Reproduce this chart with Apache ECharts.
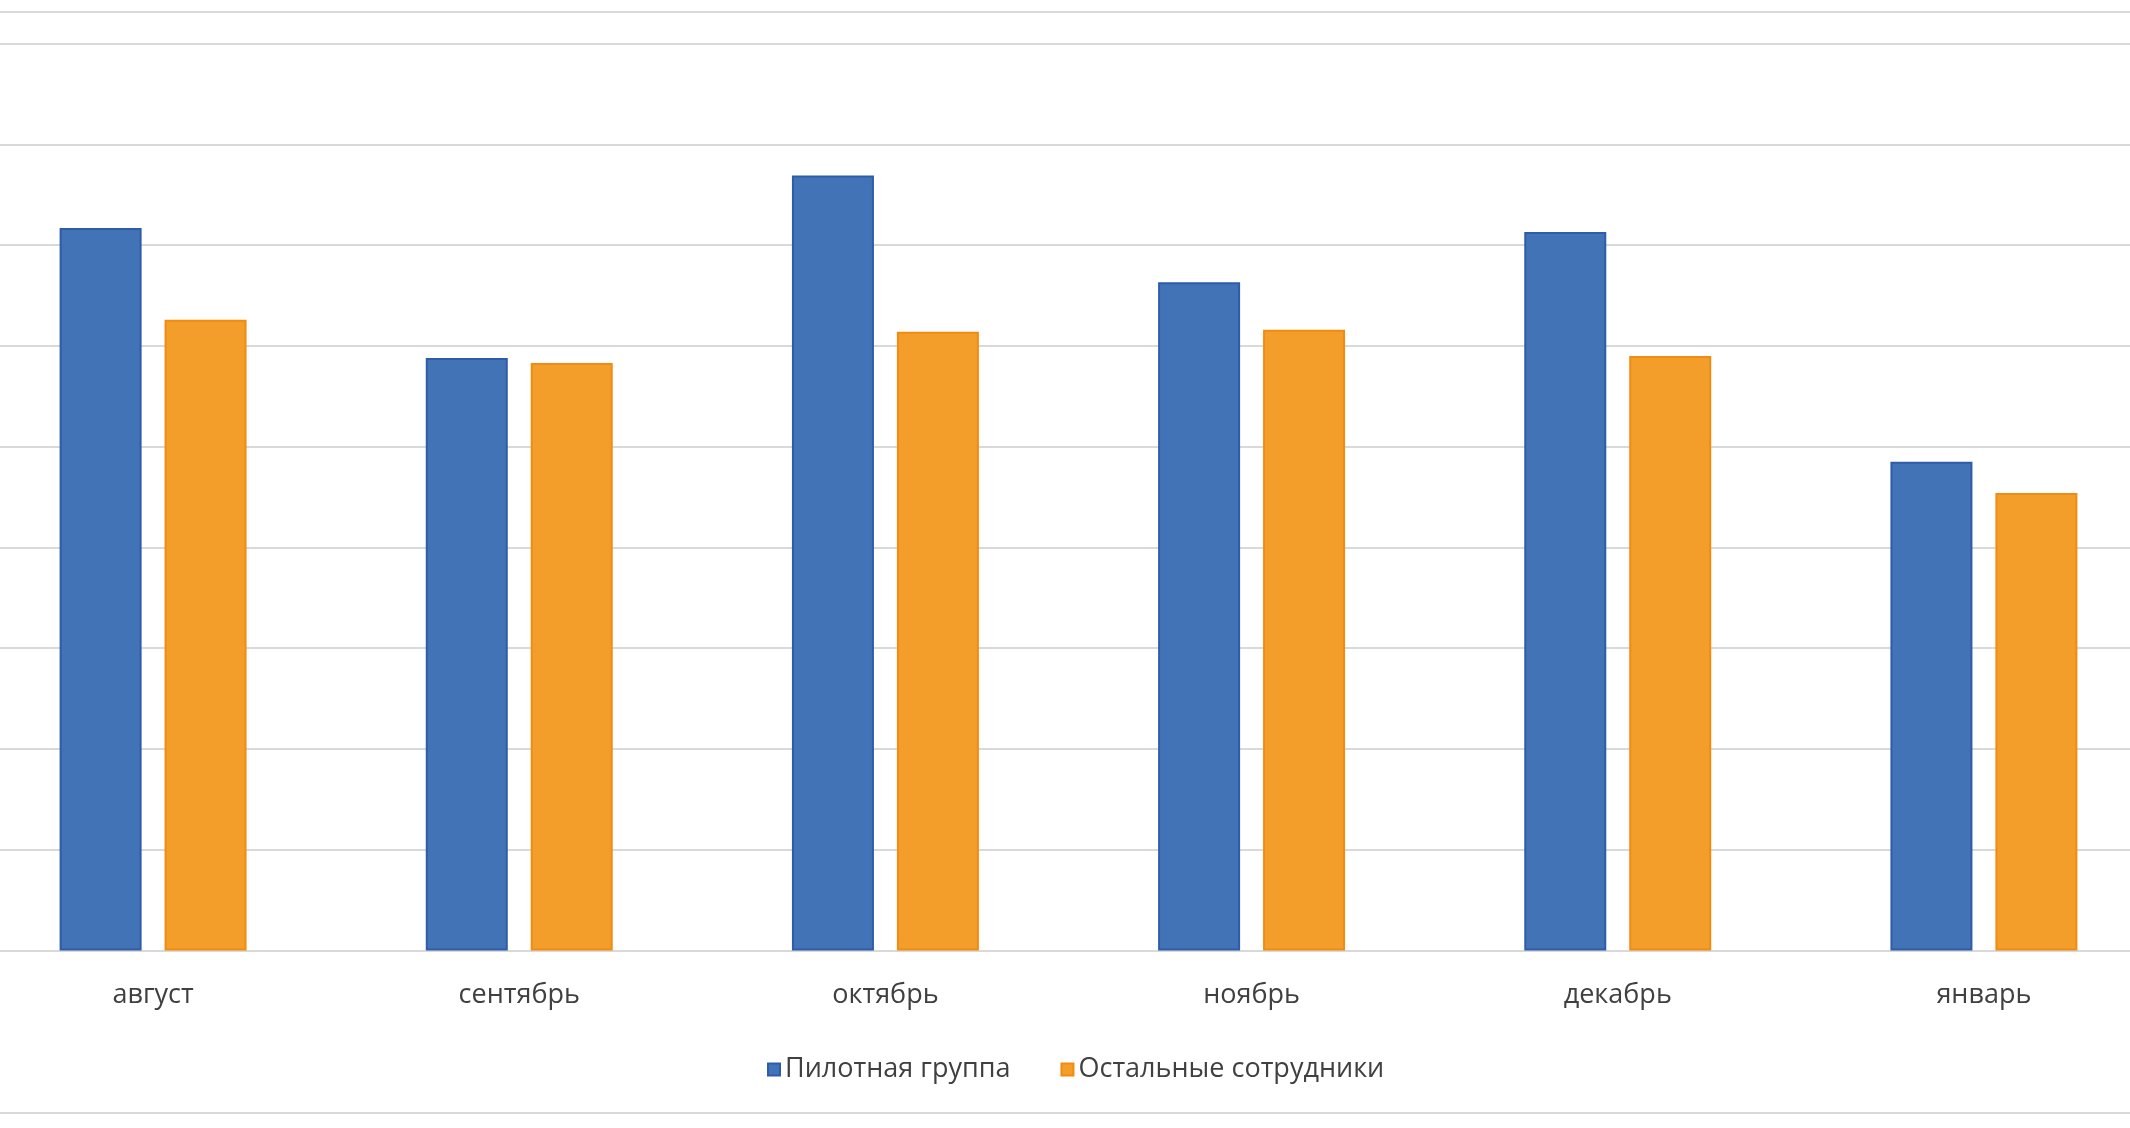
<!DOCTYPE html>
<html>
<head>
<meta charset="utf-8">
<script src="https://cdn.jsdelivr.net/npm/echarts@6/dist/echarts.min.js"></script>
<style>
  html, body { margin:0; padding:0; background:#fff; width:2130px; height:1128px; overflow:hidden; }
  #topline { position:absolute; left:0; top:11px; width:2130px; height:0; border-top:2px solid #d9d9d9; }
  #bottomline { position:absolute; left:0; top:1112px; width:2130px; height:0; border-top:2px solid #d9d9d9; }
  #chart { position:absolute; left:-30px; top:0; width:2197px; height:1128px; }
</style>
</head>
<body>
<div id="topline"></div>
<div id="bottomline"></div>
<div id="chart"></div>
<script>
const categories = ['август', 'сентябрь', 'октябрь', 'ноябрь', 'декабрь', 'январь'];
const seriesNames = ['Пилотная группа', 'Остальные сотрудники'];
const pilotValues = [71.7, 58.8, 76.9, 66.3, 71.3, 48.5];
const otherValues = [62.6, 58.3, 61.4, 61.6, 59.0, 45.4];

const chart = echarts.init(document.getElementById('chart'), null, { renderer: 'canvas' });
const font = '"Open Sans", "Noto Sans", sans-serif';
chart.setOption({
  animation: false,
  backgroundColor: 'transparent',
  grid: { left: 0, right: 0, top: 43.5, bottom: 177.5, containLabel: false },
  legend: {
    data: seriesNames,
    left: 792,
    top: 1051,
    itemWidth: 12,
    itemHeight: 12,
    itemGap: 50,
    icon: 'rect',
    textStyle: { fontFamily: font, fontSize: 27, color: '#404040' }
  },
  xAxis: {
    type: 'category',
    data: categories,
    axisLine: { show: true, lineStyle: { color: '#d9d9d9', width: 2 } },
    axisTick: { show: false },
    axisLabel: { fontFamily: font, fontSize: 27, color: '#404040', margin: 31 }
  },
  yAxis: {
    type: 'value',
    min: 0, max: 90, interval: 10,
    axisLabel: { show: false },
    axisLine: { show: false },
    axisTick: { show: false },
    splitLine: { lineStyle: { color: '#d9d9d9', width: 2 } }
  },
  series: [
    {
      name: seriesNames[0], type: 'bar', data: pilotValues,
      barWidth: 82, barGap: '28%',
      itemStyle: { color: '#4273B7', borderColor: '#2E5CAA', borderWidth: 2 }
    },
    {
      name: seriesNames[1], type: 'bar', data: otherValues,
      barWidth: 82,
      itemStyle: { color: '#F39D2A', borderColor: '#F28C10', borderWidth: 2 }
    }
  ]
});
</script>
</body>
</html>
